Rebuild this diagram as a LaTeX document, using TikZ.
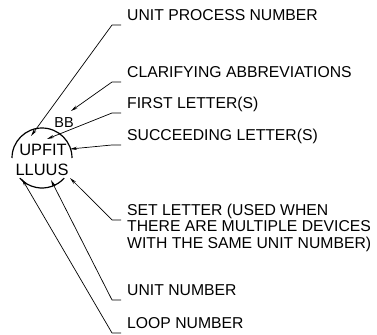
\documentclass[tikz,border=0pt]{standalone}
\usepackage{fontspec}
\setmainfont{Liberation Sans}
\usepackage{tikz}
\usetikzlibrary{arrows.meta,positioning}

\begin{document}
\begin{tikzpicture}[x=1bp, y=-1bp, thin]
\tikzstyle{lbl} = [anchor=base west, inner sep=0pt, font=\fontsize{15.8}{16.6}\selectfont, align=left]
\tikzstyle{tag} = [anchor=base, inner sep=0pt, font=\fontsize{16.5}{18}\selectfont]
\tikzstyle{leader} = [line width=0.7pt, -{Stealth[length=7pt,width=3.2pt]}]
\tikzstyle{ring} = [line width=1.2pt]

\useasboundingbox (0,0) rectangle (377,335);

% instrument balloon
\coordinate (c) at (42,158);
\draw [ring] (c) ++(180:30) arc [start angle=180, end angle=360, radius=30];
\draw [ring] (c) ++(42:30) arc [start angle=42, end angle=138, radius=30];

\node [tag] (upfit) at (43,155) {UPFIT};
\node [tag] (lluus) at (42,175) {LLUUS};
\node [tag, font=\fontsize{14.5}{16}\selectfont] (bb) at (64,127) {BB};

% labels
\node [lbl] (upn) at (127,20) {UNIT PROCESS NUMBER};
\node [lbl] (clar) at (127,77) {CLARIFYING ABBREVIATIONS};
\node [lbl] (first) at (127,108) {FIRST LETTER(S)};
\node [lbl] (succ) at (127,140) {SUCCEEDING LETTER(S)};
\node [lbl] (set) at (127,248.2) {SET LETTER (USED WHEN\\THERE ARE MULTIPLE DEVICES\\WITH THE SAME UNIT NUMBER)};
\node [lbl] (unit) at (127,295) {UNIT NUMBER};
\node [lbl] (loop) at (127,328) {LOOP NUMBER};

% arrow ends
\coordinate (tupn) at (31,136);
\coordinate (tclar) at (71,111);
\coordinate (tfirst) at (47,139);
\coordinate (tsucc) at (70,149);
\coordinate (tset) at (70,178);
\coordinate (tunit) at (51,180);
\coordinate (tloop) at (22,179);

\draw [leader] ([xshift=-6,yshift=-5]upn.base west) -- ++(-9,0) -- (tupn);
\draw [leader] ([xshift=-6,yshift=-5]clar.base west) -- ++(-9,0) -- (tclar);
\draw [leader] ([xshift=-6,yshift=-5]first.base west) -- ++(-9,0) -- (tfirst);
\draw [leader] ([xshift=-6,yshift=-5]succ.base west) -- ++(-9,0) -- (tsucc);
\draw [leader] ([xshift=-6,yshift=-5]set.base west) ++(0,-33.2) -- ++(-9,0) -- (tset);
\draw [leader] ([xshift=-6,yshift=-5]unit.base west) -- ++(-9,0) -- (tunit);
\draw [leader] ([xshift=-6,yshift=-5]loop.base west) -- ++(-9,0) -- (tloop);

\end{tikzpicture}
\end{document}
